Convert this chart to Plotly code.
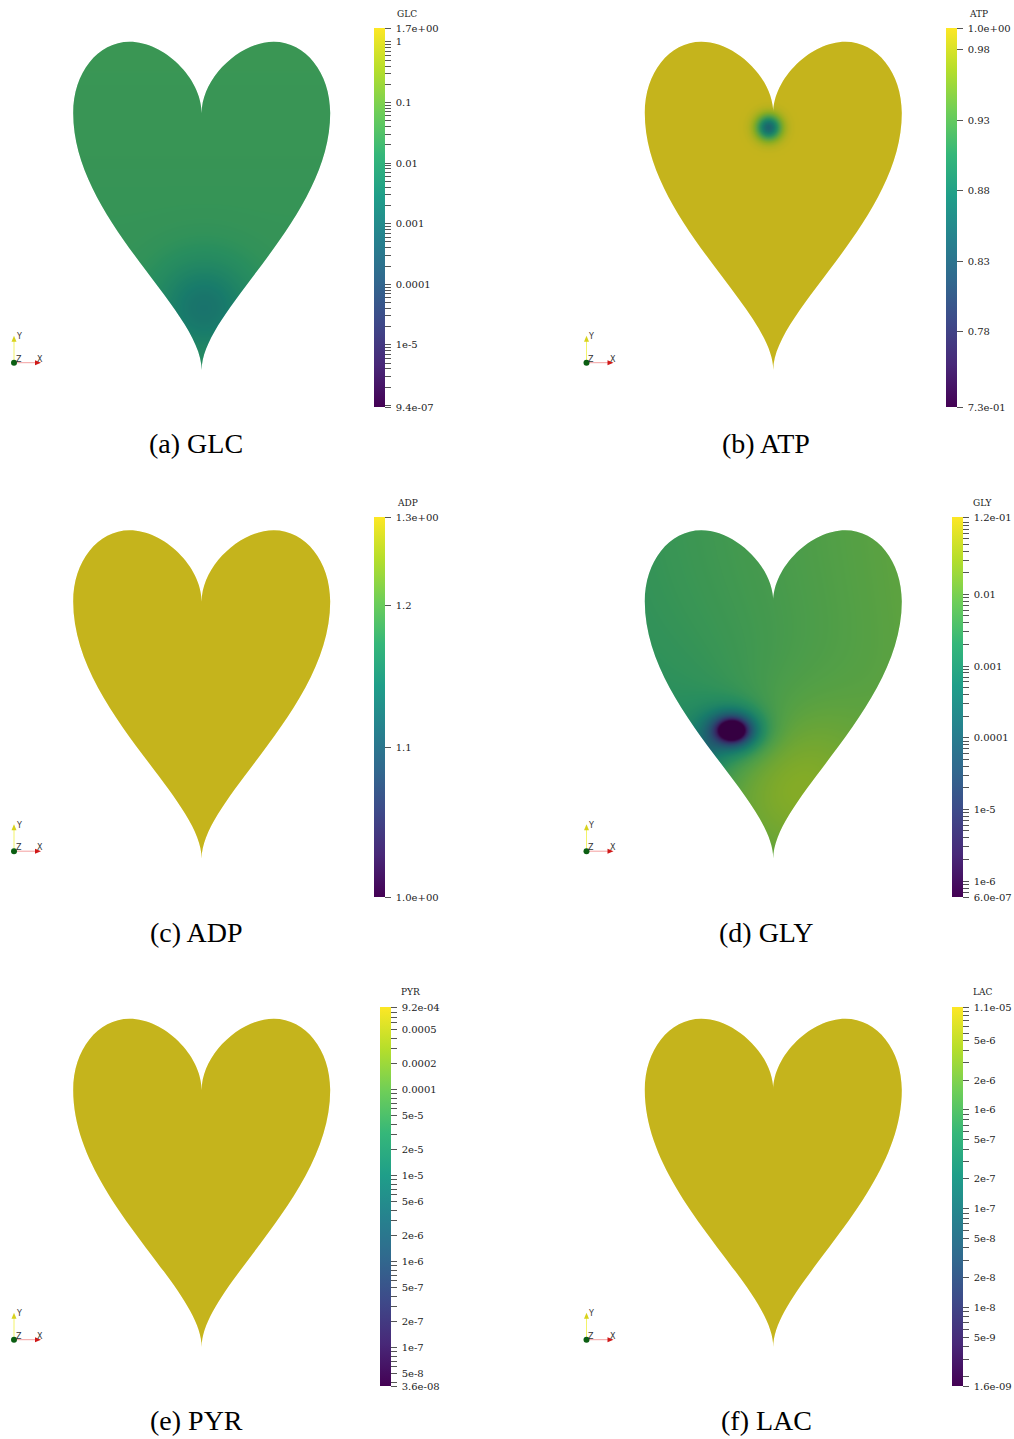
import numpy as np
import plotly.graph_objects as go

W, H = 1014, 1439

# ---------------------------------------------------------------
# Colour-bar ranges (bottom, top) and the text printed at the ends
# ---------------------------------------------------------------
GLC_RANGE = [9.4e-07, 1.7]
ATP_RANGE = [0.7265, 0.9955]
ADP_RANGE = [0.9955, 1.262]
GLY_RANGE = [6.0e-07, 1.2e-01]
PYR_RANGE = [3.6e-08, 9.2e-04]
LAC_RANGE = [1.6e-09, 1.1e-05]

GLC_END_TEXT = ["9.4e-07", "1.7e+00"]
ATP_END_TEXT = ["7.3e-01", "1.0e+00"]
ADP_END_TEXT = ["1.0e+00", "1.3e+00"]
GLY_END_TEXT = ["6.0e-07", "1.2e-01"]
PYR_END_TEXT = ["3.6e-08", "9.2e-04"]
LAC_END_TEXT = ["1.6e-09", "1.1e-05"]

# labelled ticks
GLC_TICKS = [1, 0.1, 0.01, 0.001, 0.0001, 1e-5]
GLC_TICK_TEXT = ["1", "0.1", "0.01", "0.001", "0.0001", "1e-5"]
ATP_TICKS = [0.98, 0.93, 0.88, 0.83, 0.78]
ATP_TICK_TEXT = ["0.98", "0.93", "0.88", "0.83", "0.78"]
ADP_TICKS = [1.2, 1.1]
ADP_TICK_TEXT = ["1.2", "1.1"]
GLY_TICKS = [0.01, 0.001, 0.0001, 1e-5, 1e-6]
GLY_TICK_TEXT = ["0.01", "0.001", "0.0001", "1e-5", "1e-6"]
PYR_TICKS = [5e-4, 2e-4, 1e-4, 5e-5, 2e-5, 1e-5, 5e-6, 2e-6, 1e-6,
             5e-7, 2e-7, 1e-7, 5e-8]
PYR_TICK_TEXT = ["0.0005", "0.0002", "0.0001", "5e-5", "2e-5", "1e-5",
                 "5e-6", "2e-6", "1e-6", "5e-7", "2e-7", "1e-7", "5e-8"]
LAC_TICKS = [5e-6, 2e-6, 1e-6, 5e-7, 2e-7, 1e-7, 5e-8, 2e-8, 1e-8, 5e-9]
LAC_TICK_TEXT = ["5e-6", "2e-6", "1e-6", "5e-7", "2e-7", "1e-7",
                 "5e-8", "2e-8", "1e-8", "5e-9"]

# ---------------------------------------------------------------
# Field descriptions on the heart (u across, v up from the tip, px)
# ---------------------------------------------------------------
# GLC (log10): level at the top / at the tip, and a depletion near the tip
GLC_LEVEL = [-1.58, -1.72]
GLC_DIP = [2.0, 63.0, -1.1, 45.0]           # u, v, depth, radius
# ATP: saturated level with a consumption spot under the notch
ATP_LEVEL = 0.9955
ATP_DIP = [-5.0, 243.0, -0.15, 8.5]         # u, v, depth, sigma
# ADP: uniform
ADP_LEVEL = 1.262
# GLY (log10): level and left-right slope, a raised zone above the tip,
# and a strong sink near the lower-left edge
GLY_LEVEL = [-2.25, 0.002]
GLY_BUMP = [10.0, 80.0, 0.8, 60.0]          # u, v, height, sigma
GLY_SINK = [-41.5, 128.5, 12.0, 9.0, 0.6, 65.0]   # u, v, core depth, core decay, tail depth, tail decay
GLY_SINK_AXES = [1.2, 0.9]
GLY_EDGE_SINK = [-70.0, 106.0, 1.3, 18.0]   # u, v, depth, decay
# PYR, LAC: uniform
PYR_LEVEL = 9.2e-04
LAC_LEVEL = 1.1e-05

# ---------------------------------------------------------------
# Page geometry
# ---------------------------------------------------------------
COL_CX = [201.7, 773.3]
ROW_TIP = [370.0, 858.5, 1347.0]
XR = [-135, 135]
YR = [-5, 335]
BAR_BOX = [(374, 28, 407), (946, 28, 407), (374, 517, 897),
           (952, 517, 897), (380, 1007, 1386), (952, 1007, 1386)]
TITLE_XY = [(395, 14), (967, 14), (395, 503), (971, 503), (399, 992), (971, 992)]
CAPTION_XY = [(196, 443), (766, 443), (196, 932), (766, 932), (196, 1420), (766, 1420)]

# heart outline: left half from the tip to the notch (cubic Bézier segments)
HEART_SEGMENTS = [
    [(0, 60), (-128.5, 150), (-128.5, 257)],
    [(-128.5, 297), (-104, 328.3), (-72, 328.3)],
    [(-38, 328.3), (0, 292), (0, 256.7)],
]


def heart_path():
    d = "M 0,0"
    for seg in HEART_SEGMENTS:
        d += " C " + " ".join(f"{x},{y}" for x, y in seg)
    starts = [(0, 0)] + [seg[2] for seg in HEART_SEGMENTS[:-1]]
    for seg, s in reversed(list(zip(HEART_SEGMENTS, starts))):
        c1, c2, _ = seg
        d += " C " + " ".join(f"{-x},{y}" for x, y in (c2, c1, s))
    return d + " Z"


HEART = heart_path()
MASK = "M -160,-30 L 160,-30 L 160,360 L -160,360 Z " + HEART

U = np.arange(-131, 132, 2.0)
V = np.arange(-3, 334, 2.0)
uu, vv = np.meshgrid(U, V)


def glc_field():
    lvl = GLC_LEVEL[1] + (GLC_LEVEL[0] - GLC_LEVEL[1]) * vv / 328.0
    r2 = (uu - GLC_DIP[0]) ** 2 + (vv - GLC_DIP[1]) ** 2
    return lvl + GLC_DIP[2] * np.exp(-r2 / GLC_DIP[3] ** 2)


def atp_field():
    r2 = (uu - ATP_DIP[0]) ** 2 + (vv - ATP_DIP[1]) ** 2
    return ATP_LEVEL + ATP_DIP[2] * np.exp(-r2 / (2 * ATP_DIP[3] ** 2))


def gly_field():
    lvl = GLY_LEVEL[0] + GLY_LEVEL[1] * uu
    b2 = (uu - GLY_BUMP[0]) ** 2 + (vv - GLY_BUMP[1]) ** 2
    bump = GLY_BUMP[2] * np.exp(-b2 / (2 * GLY_BUMP[3] ** 2))
    r = np.sqrt(((uu - GLY_SINK[0]) / GLY_SINK_AXES[0]) ** 2 +
                ((vv - GLY_SINK[1]) / GLY_SINK_AXES[1]) ** 2)
    sink = GLY_SINK[2] * np.exp(-r / GLY_SINK[3]) + GLY_SINK[4] * np.exp(-r / GLY_SINK[5])
    re = np.sqrt((uu - GLY_EDGE_SINK[0]) ** 2 + (vv - GLY_EDGE_SINK[1]) ** 2)
    edge = GLY_EDGE_SINK[2] * np.exp(-re / GLY_EDGE_SINK[3])
    return lvl + bump - sink - edge


def flat(level):
    return np.full(uu.shape, level)


PAD = "\u00a0"  # gap between a tick mark and its label


def log_ticks(rng, labelled, labels, end_text):
    lo, hi = np.log10(rng[0]), np.log10(rng[1])
    vals = [lo, hi] + [np.log10(t) for t in labelled]
    text = [PAD + t for t in end_text] + [PAD + t for t in labels]
    for n in range(int(np.floor(lo)), int(np.ceil(hi)) + 1):
        for k in range(1, 10):
            lv = np.log10(k * 10.0 ** n)
            if lo <= lv <= hi and all(abs(lv - v) > 1e-6 for v in vals):
                vals.append(lv)
                text.append("")
    return vals, text


def lin_ticks(rng, labelled, labels, end_text):
    return ([rng[0], rng[1]] + list(labelled),
            [PAD + t for t in end_text] + [PAD + t for t in labels])


panels = [
    ("GLC", "(a) GLC", np.round(glc_field(), 4), np.log10(GLC_RANGE),
     log_ticks(GLC_RANGE, GLC_TICKS, GLC_TICK_TEXT, GLC_END_TEXT)),
    ("ATP", "(b) ATP", np.round(atp_field(), 4), ATP_RANGE,
     lin_ticks(ATP_RANGE, ATP_TICKS, ATP_TICK_TEXT, ATP_END_TEXT)),
    ("ADP", "(c) ADP", flat(ADP_LEVEL), ADP_RANGE,
     lin_ticks(ADP_RANGE, ADP_TICKS, ADP_TICK_TEXT, ADP_END_TEXT)),
    ("GLY", "(d) GLY", np.round(gly_field(), 4), np.log10(GLY_RANGE),
     log_ticks(GLY_RANGE, GLY_TICKS, GLY_TICK_TEXT, GLY_END_TEXT)),
    ("PYR", "(e) PYR", flat(np.log10(PYR_LEVEL)), np.log10(PYR_RANGE),
     log_ticks(PYR_RANGE, PYR_TICKS, PYR_TICK_TEXT, PYR_END_TEXT)),
    ("LAC", "(f) LAC", flat(np.log10(LAC_LEVEL)), np.log10(LAC_RANGE),
     log_ticks(LAC_RANGE, LAC_TICKS, LAC_TICK_TEXT, LAC_END_TEXT)),
]

fig = go.Figure()
layout = {}
shapes = []
annotations = []


def px(x):
    return x / W


def py(y):
    return 1 - y / H


for i, (name, caption, z, zr, (tv, tt)) in enumerate(panels):
    row, col = divmod(i, 2)
    cx, tip = COL_CX[col], ROW_TIP[row]
    sfx = "" if i == 0 else str(i + 1)
    layout["xaxis" + sfx] = dict(domain=[px(cx + XR[0]), px(cx + XR[1])], range=XR,
                                 visible=False, fixedrange=True, anchor="y" + sfx)
    layout["yaxis" + sfx] = dict(domain=[py(tip - YR[0]), py(tip - YR[1])], range=YR,
                                 visible=False, fixedrange=True, anchor="x" + sfx)
    bl, bt, bb = BAR_BOX[i]
    fig.add_trace(go.Heatmap(
        x=U, y=V, z=z, zmin=float(zr[0]), zmax=float(zr[1]),
        colorscale="Viridis", zsmooth="best", hoverinfo="skip",
        xaxis="x" + sfx, yaxis="y" + sfx,
        colorbar=dict(
            thickness=11, thicknessmode="pixels",
            len=(bb - bt) / H, lenmode="fraction",
            x=px(bl), xanchor="left", xpad=0,
            y=py((bt + bb) / 2), yanchor="middle", ypad=0,
            outlinewidth=0,
            tickmode="array", tickvals=[float(v) for v in tv], ticktext=tt,
            ticks="outside", ticklen=6, tickwidth=1, tickcolor="#555555",
            tickfont=dict(family="DejaVu Serif", size=10, color="#222222"),
        ),
    ))
    # white surround outside the heart, then the lighting tint inside it
    shapes.append(dict(type="path", path=MASK, xref="x" + sfx, yref="y" + sfx,
                       fillcolor="white", line=dict(width=0), layer="above"))
    shapes.append(dict(type="path", path=HEART, xref="x" + sfx, yref="y" + sfx,
                       fillcolor="rgba(0,0,0,0.22)", line=dict(width=0), layer="above"))
    tx, ty = TITLE_XY[i]
    annotations.append(dict(text=name, x=px(tx), y=py(ty), xref="paper", yref="paper",
                            xanchor="left", yanchor="middle", showarrow=False,
                            font=dict(family="DejaVu Serif", size=9, color="#222222")))
    cxp, cyp = CAPTION_XY[i]
    annotations.append(dict(text=caption, x=px(cxp), y=py(cyp), xref="paper", yref="paper",
                            xanchor="center", yanchor="middle", showarrow=False,
                            font=dict(family="Liberation Serif", size=28, color="black")))

    # orientation glyph in the lower-left corner of each panel
    ox, oy = 14 + col * 572.5, 362.7 + row * 488.5
    shapes.append(dict(type="line", xref="paper", yref="paper",
                       x0=px(ox), y0=py(oy), x1=px(ox), y1=py(oy - 23),
                       line=dict(color="#f3f36a", width=1)))
    shapes.append(dict(type="line", xref="paper", yref="paper",
                       x0=px(ox), y0=py(oy), x1=px(ox + 23), y1=py(oy),
                       line=dict(color="#f3a0a0", width=1)))
    shapes.append(dict(type="path", xref="paper", yref="paper",
                       path=f"M {px(ox-2.5)},{py(oy-21)} L {px(ox+2.5)},{py(oy-21)} L {px(ox)},{py(oy-27)} Z",
                       fillcolor="#d8d21c", line=dict(width=0)))
    shapes.append(dict(type="path", xref="paper", yref="paper",
                       path=f"M {px(ox+21)},{py(oy-2.5)} L {px(ox+21)},{py(oy+2.5)} L {px(ox+27)},{py(oy)} Z",
                       fillcolor="#d01818", line=dict(width=0)))
    shapes.append(dict(type="circle", xref="paper", yref="paper",
                       x0=px(ox - 3), x1=px(ox + 3), y0=py(oy - 3), y1=py(oy + 3),
                       fillcolor="#0b5e12", line=dict(width=0)))
    for lab, dx, dy in (("Y", 4.5, -26), ("Z", 4.5, -3.5), ("X", 26, -3.5)):
        annotations.append(dict(text=lab, x=px(ox + dx), y=py(oy + dy), xref="paper",
                                yref="paper", xanchor="center", yanchor="middle",
                                showarrow=False,
                                font=dict(family="DejaVu Sans", size=8, color="#333333")))

fig.update_layout(
    width=W, height=H, autosize=False,
    margin=dict(l=0, r=0, t=0, b=0),
    paper_bgcolor="white", plot_bgcolor="white",
    showlegend=False, shapes=shapes, annotations=annotations,
    **layout,
)

fig.write_html("out.html")
